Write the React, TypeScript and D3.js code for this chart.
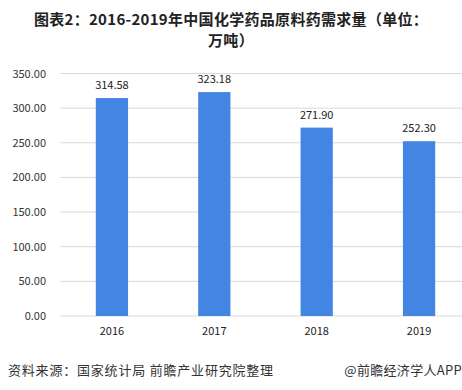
import React, { useEffect, useRef } from "react";
import * as d3 from "d3";

const years = ["2016", "2017", "2018", "2019"];
const demand = [314.58, 323.18, 271.9, 252.3];
const yTicks = [0, 50, 100, 150, 200, 250, 300, 350];
const titleLines = ["图表2：2016-2019年中国化学药品原料药需求量（单位：", "万吨）"];
const sourceText = "资料来源：国家统计局  前瞻产业研究院整理";
const brandText = "@前瞻经济学人APP";

const W = 462;
const H = 390;

export default function App() {
  const ref = useRef<SVGSVGElement>(null);

  useEffect(() => {
    const svg = d3.select(ref.current);
    svg.selectAll("*").remove();

    const font = "'Microsoft YaHei', 'Noto Sans CJK SC', 'DejaVu Sans', sans-serif";
    const margin = { top: 73.5, bottom: 316, left: 61, right: 470 };

    // title
    svg
      .selectAll(".title")
      .data(titleLines)
      .join("text")
      .attr("class", "title")
      .attr("x", W / 2)
      .attr("y", (d, i) => 25 + i * 21)
      .attr("text-anchor", "middle")
      .attr("font-family", font)
      .attr("font-size", 15)
      .attr("font-weight", "bold")
      .attr("letter-spacing", 0.3)
      .attr("fill", "#222")
      .text((d) => d);

    var x = d3.scaleBand().domain(years).range([margin.left, margin.right]).paddingInner(0.685).paddingOuter(0.34);
    var y = d3.scaleLinear().domain([0, 350]).range([margin.bottom, margin.top]);

    // grid
    svg
      .selectAll(".grid")
      .data(yTicks)
      .join("line")
      .attr("class", "grid")
      .attr("x1", 60)
      .attr("x2", W)
      .attr("y1", (d) => y(d))
      .attr("y2", (d) => y(d))
      .attr("stroke", "#d9d9d9")
      .attr("stroke-width", 1);

    // y labels
    svg
      .selectAll(".ylab")
      .data(yTicks)
      .join("text")
      .attr("class", "ylab")
      .attr("x", 46)
      .attr("y", (d) => y(d) + 4)
      .attr("text-anchor", "end")
      .attr("font-family", font)
      .attr("font-size", 11)
      .attr("fill", "#333")
      .text((d) => d.toFixed(2));

    // bars
    svg
      .selectAll(".bar")
      .data(demand)
      .join("rect")
      .attr("class", "bar")
      .attr("x", (d, i) => x(years[i])!)
      .attr("y", (d) => y(d))
      .attr("width", x.bandwidth())
      .attr("height", (d) => y(0) - y(d))
      .attr("fill", "#4285e2");

    // value labels
    svg
      .selectAll(".val")
      .data(demand)
      .join("text")
      .attr("class", "val")
      .attr("x", (d, i) => x(years[i])! + x.bandwidth() / 2)
      .attr("y", (d) => y(d) - 9)
      .attr("text-anchor", "middle")
      .attr("font-family", font)
      .attr("font-size", 11)
      .attr("fill", "#222")
      .text((d) => d.toFixed(2));

    // x labels
    svg
      .selectAll(".xlab")
      .data(years)
      .join("text")
      .attr("class", "xlab")
      .attr("x", (d) => x(d)! + x.bandwidth() / 2)
      .attr("y", 335)
      .attr("text-anchor", "middle")
      .attr("font-family", font)
      .attr("font-size", 11)
      .attr("fill", "#222")
      .text((d) => d);

    // footer
    svg
      .append("text")
      .attr("x", 8)
      .attr("y", 375)
      .attr("font-family", font)
      .attr("font-size", 13)
      .attr("letter-spacing", 0.8)
      .attr("fill", "#333")
      .text(sourceText);
    svg
      .append("text")
      .attr("x", W)
      .attr("y", 375)
      .attr("text-anchor", "end")
      .attr("font-family", font)
      .attr("font-size", 13)
      .attr("letter-spacing", 0.3)
      .attr("fill", "#333")
      .text(brandText);
  }, []);

  return (
    <svg
      ref={ref}
      width={W}
      height={H}
      style={{ position: "absolute", left: 0, top: 0, background: "#fff" }}
    ></svg>
  );
}
